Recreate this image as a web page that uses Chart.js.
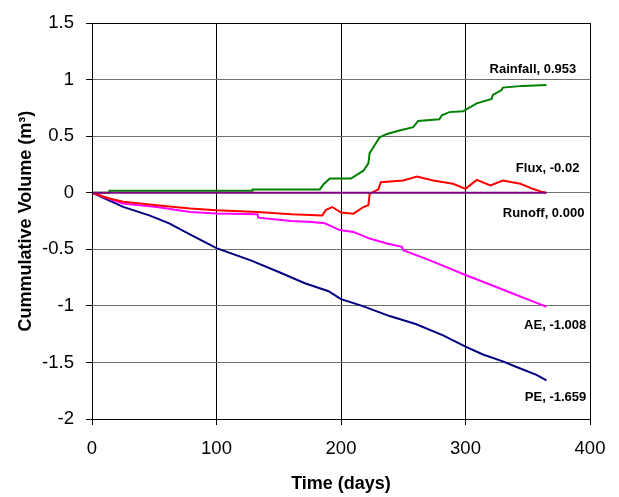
<!DOCTYPE html>
<html>
<head>
<meta charset="utf-8">
<script src="https://cdn.jsdelivr.net/npm/chart.js@4"></script>
<style>
  body { margin: 0; background: #fff; }
</style>
</head>
<body>
<canvas id="grafico" width="619" height="497"></canvas>
<script>
// days and cumulative volumes (m3)
var diasChuva = [0, 14, 14, 129, 129, 183, 186, 191, 208, 213, 218, 222, 223, 227, 231, 237, 247, 258, 262, 279, 281, 287, 298, 309, 321, 322, 329, 330, 346, 365];
var chuva = [0, 0, 0.017, 0.017, 0.03, 0.03, 0.075, 0.126, 0.126, 0.16, 0.195, 0.26, 0.35, 0.42, 0.49, 0.52, 0.55, 0.58, 0.635, 0.65, 0.684, 0.713, 0.72, 0.79, 0.83, 0.865, 0.908, 0.93, 0.945, 0.953];

var diasFluxo = [0, 14, 25, 52, 79, 100, 133, 160, 185, 188, 193, 200, 210, 218, 222, 223, 230, 232, 250, 261, 274, 290, 300, 309, 320, 330, 344, 354, 362, 365];
var fluxo = [0, -0.05, -0.08, -0.11, -0.14, -0.155, -0.17, -0.19, -0.2, -0.15, -0.126, -0.175, -0.185, -0.126, -0.11, -0.01, 0.03, 0.094, 0.108, 0.144, 0.108, 0.08, 0.035, 0.114, 0.065, 0.108, 0.08, 0.035, 0.006, 0];

var diasEscoamento = [0, 365];
var escoamento = [0, 0];

var diasAE = [0, 10, 25, 52, 79, 100, 133, 133.5, 160, 174, 187, 192, 199, 210, 223, 237, 249, 250, 271, 300, 317, 338, 354, 365];
var ae = [0, -0.04, -0.096, -0.125, -0.17, -0.184, -0.19, -0.22, -0.25, -0.257, -0.27, -0.295, -0.33, -0.346, -0.405, -0.449, -0.478, -0.507, -0.595, -0.727, -0.8, -0.89, -0.96, -1.008];

var diasPE = [0, 10, 25, 46, 62, 79, 100, 128, 150, 171, 190, 200, 217, 239, 260, 282, 300, 314, 330, 341, 357, 365];
var pe = [0, -0.05, -0.125, -0.2, -0.27, -0.37, -0.49, -0.6, -0.7, -0.8, -0.87, -0.94, -1.0, -1.09, -1.16, -1.26, -1.36, -1.43, -1.49, -1.54, -1.61, -1.659];

var rotulos = ['Runoff, 0.000', 'Flux, -0.02', 'Rainfall, 0.953', 'AE, -1.008', 'PE, -1.659'];

function pontos(dias, valores) {
    return dias.map(function (d, i) { return { x: d, y: valores[i] }; });
}

function serie(nome, dias, valores, cor) {
    return {
        label: nome,
        data: pontos(dias, valores),
        borderColor: cor,
        backgroundColor: cor,
        borderWidth: 2,
        pointRadius: 0,
        fill: false,
        tension: 0
    };
}

// text next to the end of each line (anchor in data units)
var ancoras = [
    { x: 395.5, y: -0.184 },
    { x: 391.5, y: 0.214 },
    { x: 389, y: 1.088 },
    { x: 397, y: -1.17 },
    { x: 397, y: -1.81 }
];

var rotulosPlugin = {
    id: 'rotulos',
    afterDatasetsDraw: function (chart) {
        var ctx = chart.ctx;
        var sx = chart.scales.x, sy = chart.scales.y;
        ctx.save();
        ctx.font = 'bold 13px "Liberation Sans", Arial, sans-serif';
        ctx.fillStyle = '#000';
        ctx.textAlign = 'right';
        ctx.textBaseline = 'middle';
        rotulos.forEach(function (t, i) {
            ctx.fillText(t, sx.getPixelForValue(ancoras[i].x), sy.getPixelForValue(ancoras[i].y));
        });
        ctx.restore();
    }
};

var moldura = {
    id: 'moldura',
    afterDraw: function (chart) {
        var a = chart.chartArea, ctx = chart.ctx;
        ctx.save();
        ctx.strokeStyle = '#000';
        ctx.lineWidth = 1;
        ctx.strokeRect(Math.round(a.left) + 0.5, Math.round(a.top) + 0.5, Math.round(a.right - a.left), Math.round(a.bottom - a.top));
        ctx.restore();
    }
};

var fonte = '"Liberation Sans", Arial, sans-serif';

var ctx = document.getElementById('grafico').getContext('2d');
var chart = new Chart(ctx, {
    type: 'line',
    data: {
        datasets: [
            serie('Runoff', diasEscoamento, escoamento, '#800080'),
            serie('Flux', diasFluxo, fluxo, '#ff0000'),
            serie('Rainfall', diasChuva, chuva, '#008000'),
            serie('AE', diasAE, ae, '#ff00ff'),
            serie('PE', diasPE, pe, '#000080')
        ]
    },
    options: {
        responsive: false,
        animation: false,
        layout: { padding: { top: 15, right: 29, left: 0, bottom: 0 } },
        plugins: { legend: { display: false }, tooltip: { enabled: false } },
        scales: {
            x: {
                type: 'linear',
                min: 0, max: 400,
                ticks: { stepSize: 100, color: '#000', padding: 13, font: { family: fonte, size: 18.5 } },
                grid: { color: '#000', tickColor: '#000', tickLength: 6, lineWidth: 1 },
                border: { color: '#000', width: 1 },
                title: { display: true, text: 'Time (days)', color: '#000', padding: { top: 0, bottom: 2 }, font: { family: fonte, size: 18, weight: 'bold' } },
                afterFit: function (s) { s.height = 78; }
            },
            y: {
                min: -2, max: 1.5,
                ticks: {
                    stepSize: 0.5, color: '#000', padding: 12, font: { family: fonte, size: 18.5 },
                    callback: function (v) { return String(Math.round(v * 10) / 10); }
                },
                grid: { color: '#707070', tickColor: '#000', tickLength: 6, lineWidth: 1 },
                border: { color: '#000', width: 1 },
                title: { display: true, text: 'Cummulative Volume (m³)', color: '#000', padding: { top: 15, bottom: 0 }, font: { family: fonte, size: 18, weight: 'bold' } },
                afterFit: function (s) { s.width = 92; }
            }
        }
    },
    plugins: [rotulosPlugin, moldura]
});
</script>
</body>
</html>
